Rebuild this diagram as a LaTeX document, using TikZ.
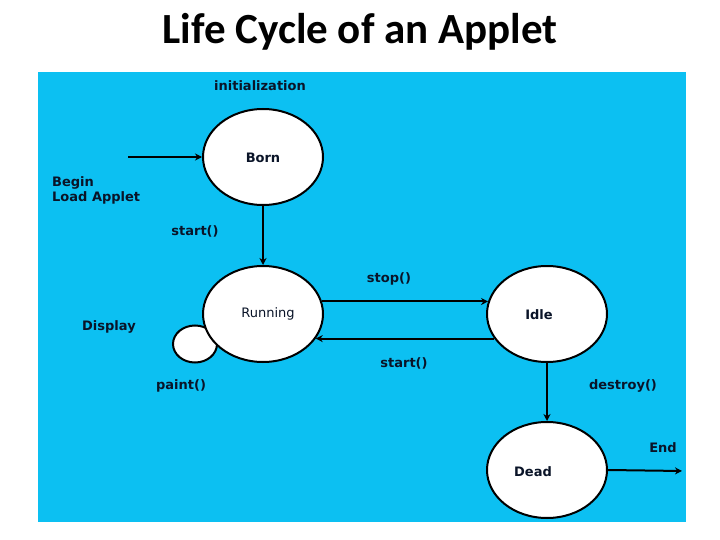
\documentclass[tikz,border=0pt]{standalone}
\usepackage{fontspec}
\usetikzlibrary{shapes.geometric,arrows.meta}
\newfontfamily\titlefont{Carlito}
\newfontfamily\labelfont{DejaVu Sans}
\definecolor{skyback}{RGB}{12,192,242}
\definecolor{inkcol}{RGB}{10,20,40}
\begin{document}
\begin{tikzpicture}[x=1pt,y=-1pt,
  statenode/.style={ellipse,draw=black,line width=2pt,fill=white,inner sep=0pt,minimum width=120pt,minimum height=96pt},
  lbl/.style={font=\labelfont\bfseries\fontsize{13}{15}\selectfont,text=inkcol,inner sep=0pt,align=left},
  conn/.style={line width=2pt,-{Stealth[length=7pt,width=7pt]}}]
\useasboundingbox (0,0) rectangle (720,540);
\fill[white] (0,0) rectangle (720,540);
\fill[skyback] (38,72) rectangle (686,522);
\node[font=\titlefont\bfseries\fontsize{43}{48}\selectfont,anchor=base,inner sep=0pt] (title) at (360,44) {Life Cycle of an Applet};
% small paint loop circle
\node[ellipse,draw=black,line width=2pt,fill=white,inner sep=0pt,minimum width=44pt,minimum height=37pt] (loop) at (195,344) {};
\node[statenode] (Born) at (263,157) {};
\node[statenode] (Running) at (263,314) {};
\node[statenode] (Idle) at (547,314) {};
\node[statenode] (Dead) at (547,470) {};
% state texts
\node[lbl] (tBorn) at (263,158) {Born};
\node[lbl,font=\labelfont\fontsize{13}{15}\selectfont] (tRunning) at (268,314) {Running};
\node[lbl] (tIdle) at (539,315) {Idle};
\node[lbl] (tDead) at (533,472) {Dead};
% labels
\node[lbl] (linit) at (260,86) {initialization};
\node[lbl,anchor=west] (lbegin) at (52,190) {Begin\\Load Applet};
\node[lbl] (lstart1) at (195,231) {start()};
\node[lbl] (ldisplay) at (109,327) {Display};
\node[lbl] (lpaint) at (181,386) {paint()};
\node[lbl] (lstop) at (389,279) {stop()};
\node[lbl] (lstart2) at (404,363) {start()};
\node[lbl] (ldestroy) at (623,386) {destroy()};
\node[lbl] (lend) at (663,448) {End};
% connectors
\coordinate (beginpt) at (128,157);
\coordinate (endpt) at (682,471);
\draw[conn] (beginpt) -- (Born.west);
\draw[conn] (Born.south) -- (Running.north);
\draw[conn] (Running.12) -- (Idle.168);
\draw[conn] (Idle.205) -- (Running.-25);
\draw[conn] (Idle.south) -- (Dead.north);
\draw[conn] (Dead.east) -- (endpt);
\end{tikzpicture}
\end{document}
